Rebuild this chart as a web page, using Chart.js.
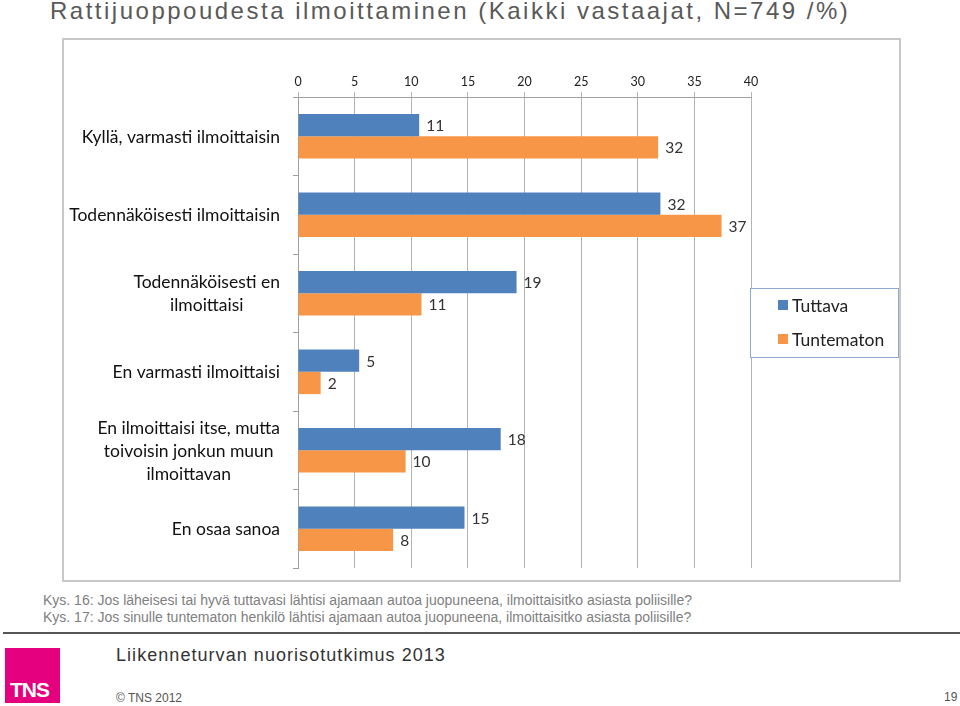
<!DOCTYPE html>
<html>
<head>
<meta charset="utf-8">
<script src="https://cdn.jsdelivr.net/npm/chart.js@4/dist/chart.umd.min.js"></script>
<style>
  body { margin: 0; width: 960px; height: 706px; background: #fff; position: relative; overflow: hidden; font-family: "Liberation Sans", Arial, sans-serif; }
  #title { position: absolute; left: 50px; top: -3px; font-size: 24px; letter-spacing: 2.5px; color: #595959; white-space: nowrap; }
  #frame { position: absolute; left: 62px; top: 38px; width: 839px; height: 544px; box-sizing: border-box; border: 2px solid #c8c8c8; }
  #chart { position: absolute; left: 64px; top: 40px; }
  .note { position: absolute; left: 43px; font-size: 14px; color: #808080; white-space: nowrap; }
  #rule { position: absolute; left: 3px; right: 0; top: 632px; height: 2px; background: #555; }
  #logo { position: absolute; left: 5px; top: 648px; width: 55px; height: 55px; background: #e4007f; color: #fff; }
  #logo span { position: absolute; left: 5px; bottom: 1px; font: bold 21px "Liberation Sans", Arial, sans-serif; letter-spacing: -1px; }
  #sub { position: absolute; left: 116px; top: 645px; font-size: 18px; letter-spacing: 1.05px; color: #333; white-space: nowrap; }
  #copy { position: absolute; left: 116px; top: 691px; font-size: 12px; color: #555; }
  #page { position: absolute; left: 944px; top: 690px; font-size: 12px; color: #555; }
</style>
</head>
<body>
<div id="title">Rattijuoppoudesta ilmoittaminen (Kaikki vastaajat, N=749 /%)</div>
<div id="frame"></div>
<canvas id="chart" width="835" height="540"></canvas>
<div class="note" style="top:592px">Kys. 16: Jos läheisesi tai hyvä tuttavasi lähtisi ajamaan autoa juopuneena, ilmoittaisitko asiasta poliisille?</div>
<div class="note" style="top:609px">Kys. 17: Jos sinulle tuntematon henkilö lähtisi ajamaan autoa juopuneena, ilmoittaisitko asiasta poliisille?</div>
<div id="rule"></div>
<div id="logo"><span>TNS</span></div>
<div id="sub">Liikenneturvan nuorisotutkimus 2013</div>
<div id="copy">© TNS 2012</div>
<div id="page">19</div>
<script>
// vastausvaihtoehdot
const categories = [
  'Kyllä, varmasti ilmoittaisin',
  'Todennäköisesti ilmoittaisin',
  ['Todennäköisesti en', 'ilmoittaisi'],
  'En varmasti ilmoittaisi',
  ['En ilmoittaisi itse, mutta', 'toivoisin jonkun muun', 'ilmoittavan'],
  'En osaa sanoa'
];
const tuttava = [10.7, 32.0, 19.3, 5.4, 17.9, 14.7];
const tuntematon = [31.8, 37.4, 10.9, 2.0, 9.5, 8.4];
const xTicks = [0, 5, 10, 15, 20, 25, 30, 35, 40];

const labelFont = '17.5px Lato, "Open Sans", sans-serif';

// arvot palkkien perään + kategoriat keskitettyinä riveinä
const barText = {
  id: 'barText',
  afterDatasetsDraw(chart) {
    const ctx = chart.ctx;
    ctx.save();
    ctx.font = '15.5px Lato, "Open Sans", sans-serif';
    ctx.fillStyle = '#333';
    ctx.textBaseline = 'middle';
    ctx.textAlign = 'left';
    chart.data.datasets.forEach((ds, i) => {
      chart.getDatasetMeta(i).data.forEach((bar, j) => {
        ctx.fillText(Math.round(ds.data[j]), bar.x + 7, bar.y + 1);
      });
    });
    const y = chart.scales.y;
    ctx.font = labelFont;
    ctx.textAlign = 'center';
    ctx.fillStyle = '#111';
    const right = 216;
    categories.forEach((c, i) => {
      const lines = Array.isArray(c) ? c : [c];
      const w = Math.max(...lines.map(l => ctx.measureText(l).width));
      const cy = y.getPixelForTick(i);
      const lh = 23;
      lines.forEach((l, k) => {
        ctx.fillText(l, right - w / 2, cy + (k - (lines.length - 1) / 2) * lh + 1);
      });
    });
    ctx.restore();
  }
};

const boxLegend = {
  id: 'boxLegend',
  afterDraw(chart) {
    const ctx = chart.ctx;
    ctx.save();
    ctx.strokeStyle = '#8ea9cf';
    ctx.lineWidth = 1;
    ctx.fillStyle = '#fff';
    ctx.fillRect(686, 248, 148, 69);
    ctx.strokeRect(686.5, 248.5, 148, 69);
    ctx.font = labelFont;
    ctx.textBaseline = 'middle';
    chart.data.datasets.forEach((ds, i) => {
      const yy = 265 + i * 34;
      ctx.fillStyle = ds.backgroundColor;
      ctx.fillRect(714, yy - 5, 10, 10);
      ctx.fillStyle = '#222';
      ctx.fillText(ds.label, 728, yy + 1);
    });
    ctx.restore();
  }
};

new Chart(document.getElementById('chart'), {
  type: 'bar',
  data: {
    labels: categories,
    datasets: [
      { label: 'Tuttava', data: tuttava, backgroundColor: '#4f81bd' },
      { label: 'Tuntematon', data: tuntematon, backgroundColor: '#f79646' }
    ]
  },
  options: {
    indexAxis: 'y',
    responsive: false,
    animation: false,
    layout: { padding: { top: 0, left: 0, right: 148, bottom: 12 } },
    datasets: { bar: { categoryPercentage: 0.57, barPercentage: 1 } },
    plugins: { legend: { display: false }, tooltip: { enabled: false } },
    scales: {
      x: {
        position: 'top',
        min: 0,
        max: 40,
        afterBuildTicks: s => { s.ticks = xTicks.map(v => ({ value: v })); },
        afterFit: s => { s.height = 57; },
        ticks: { color: '#222', font: { family: 'Lato, "Open Sans", sans-serif', size: 12.5 }, padding: 3 },
        grid: { color: '#b4b4b4', tickLength: 5, lineWidth: 1 },
        border: { color: '#a0a0a0' }
      },
      y: {
        afterFit: s => { s.width = 234; },
        ticks: { color: 'rgba(0,0,0,0)' },
        grid: { drawOnChartArea: false, tickLength: 5, color: '#a0a0a0', offset: true },
        border: { color: '#a0a0a0' }
      }
    }
  },
  plugins: [barText, boxLegend]
});
</script>
</body>
</html>
